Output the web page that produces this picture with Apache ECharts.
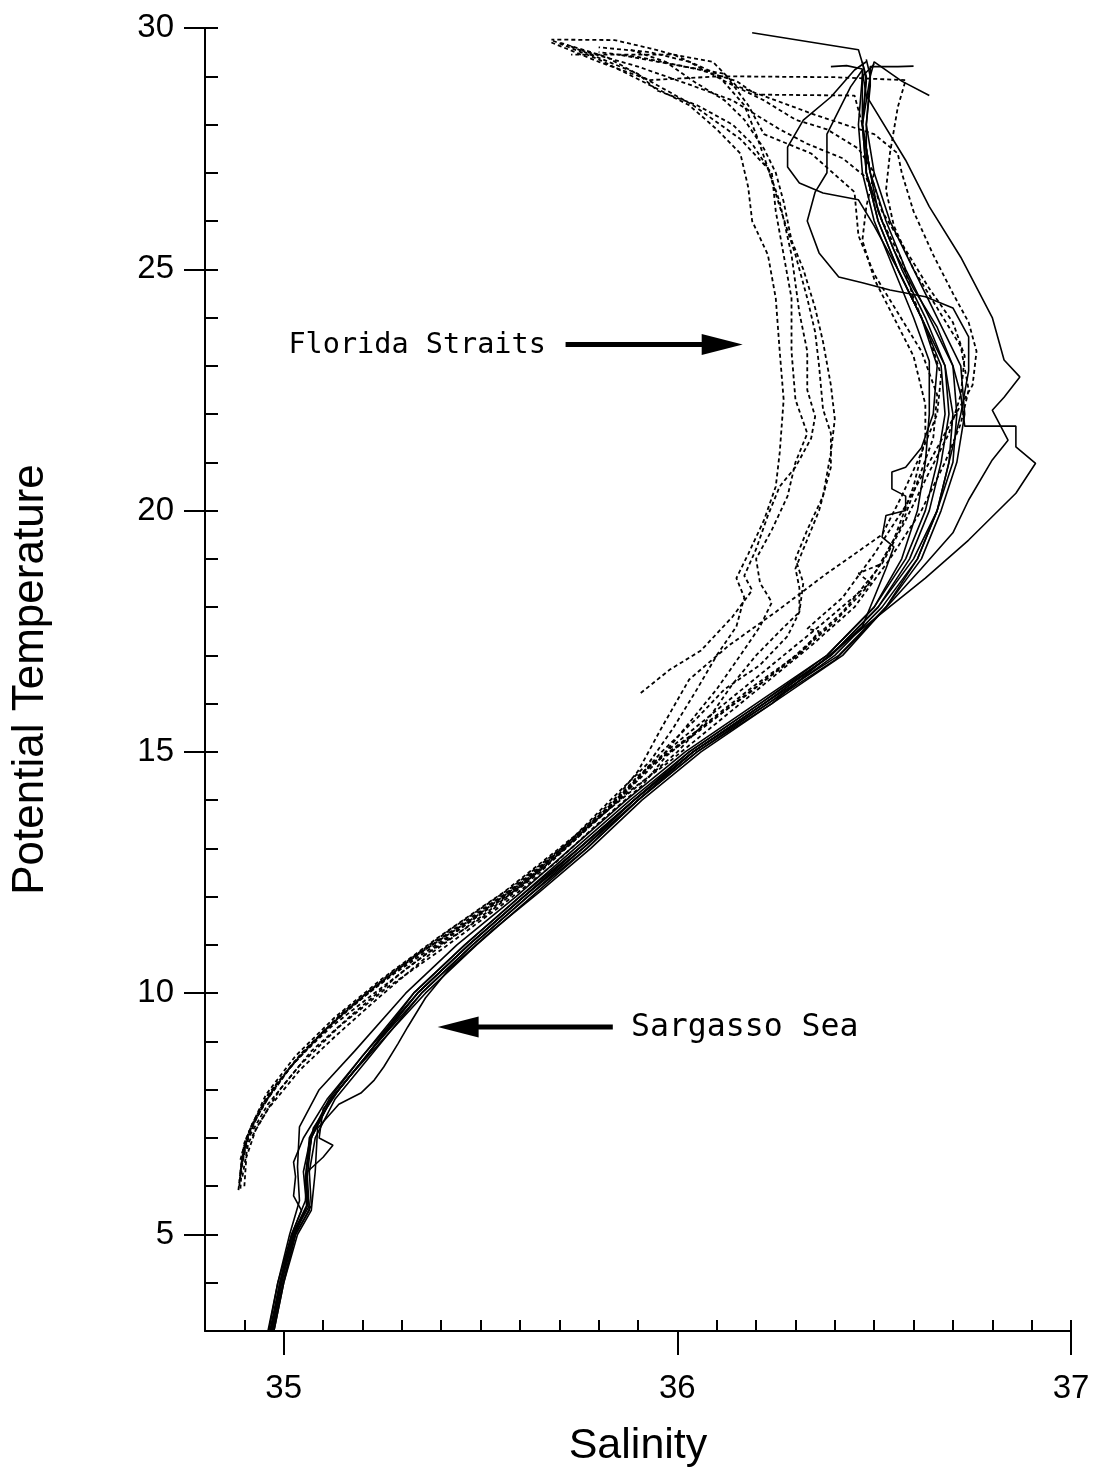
<!DOCTYPE html>
<html>
<head>
<meta charset="utf-8">
<script src="https://cdn.jsdelivr.net/npm/echarts@6/dist/echarts.min.js"></script>
<style>
  html, body { margin: 0; padding: 0; background: #fff; }
  #chart { width: 1098px; height: 1477px; }
</style>
</head>
<body>
<div id="chart"></div>
<script>
// ---------------- axis ticks ----------------
const xMajorTicks = [35, 36, 37];
const xMinorTicks = [34.9, 35.1, 35.2, 35.3, 35.4, 35.5, 35.6, 35.7, 35.8, 35.9,
                     36.1, 36.2, 36.3, 36.4, 36.5, 36.6, 36.7, 36.8, 36.9, 37];
const yMajorTicks = [5, 10, 15, 20, 25, 30];
const yInnerTicks = [4, 5, 6, 7, 8, 9, 10, 11, 12, 13, 14, 15, 16, 17, 18, 19, 20,
                     21, 22, 23, 24, 25, 26, 27, 28, 29, 30];

// ---------------- Sargasso Sea profiles [salinity, potential temperature] ----------------
const sargasso1 = [[34.975,3.0],[35.0,4.0],[35.035,5.0],[35.07,5.5],[35.08,6.3],[35.086,7.2],[35.14,7.7],[35.196,7.93],[35.23,8.2],[35.254,8.47],[35.29,8.95],[35.315,9.3],[35.36,9.9],[35.42,10.5],[35.53,11.3],[35.65,12.1],[35.78,13.0],[35.91,14.0],[36.06,15.0],[36.24,16.0],[36.40,17.1],[36.52,17.88],[36.63,18.6],[36.74,19.39],[36.86,20.36],[36.91,20.98],[36.86,21.32],[36.86,21.75],[36.73,21.75],[36.72,22.4],[36.70,23.0],[36.66,23.8],[36.60,24.6],[36.55,25.4],[36.51,26.2],[36.49,27.0],[36.47,28.0],[36.48,28.9],[36.47,29.3]];
const sargasso2 = [[34.968,3.0],[34.993,4.0],[35.028,5.0],[35.06,5.6],[35.058,6.4],[35.075,7.2],[35.14,8.0],[35.23,8.9],[35.35,10.0],[35.48,11.0],[35.62,12.0],[35.77,13.0],[35.90,14.0],[36.05,15.0],[36.23,16.0],[36.40,16.9],[36.52,17.9],[36.62,18.8],[36.70,19.54],[36.74,20.22],[36.80,21.05],[36.84,21.46],[36.80,22.08],[36.83,22.35],[36.87,22.77],[36.83,23.12],[36.80,24.0],[36.72,25.25],[36.64,26.3],[36.58,27.26],[36.48,28.6],[36.47,29.1]];
const sargasso3 = [[34.96,3.0],[34.985,4.0],[35.02,5.0],[35.055,5.7],[35.06,6.3],[35.10,6.6],[35.125,6.85],[35.09,7.0],[35.10,7.6],[35.17,8.3],[35.27,9.2],[35.36,10.0],[35.49,11.0],[35.63,12.0],[35.77,13.0],[35.90,14.0],[36.04,15.0],[36.22,16.0],[36.39,17.0],[36.51,18.0],[36.60,19.0],[36.66,20.0],[36.69,21.0],[36.70,22.0],[36.68,23.0],[36.62,24.0],[36.56,25.0],[36.50,25.9],[36.46,26.44],[36.37,26.58],[36.31,26.79],[36.28,27.12],[36.28,27.53],[36.32,28.09],[36.39,28.57],[36.45,29.13],[36.48,29.3]];
const sargasso4 = [[34.972,3.0],[34.998,4.0],[35.03,5.0],[35.065,5.5],[35.06,6.2],[35.07,7.0],[35.12,7.8],[35.21,8.7],[35.33,10.0],[35.46,11.0],[35.60,12.0],[35.75,13.0],[35.89,14.0],[36.04,15.0],[36.22,16.0],[36.41,17.0],[36.53,18.0],[36.61,19.0],[36.66,20.0],[36.69,21.0],[36.72,22.0],[36.74,22.9],[36.74,23.6],[36.70,24.2],[36.63,24.43],[36.54,24.57],[36.47,24.72],[36.41,24.84],[36.36,25.34],[36.33,26.0],[36.35,26.6],[36.38,27.0],[36.38,27.8],[36.44,28.78],[36.47,29.13]];
const sargasso5 = [[34.965,3.0],[34.99,4.0],[35.02,5.0],[35.045,5.5],[35.025,5.8],[35.03,6.2],[35.025,6.5],[35.05,7.0],[35.11,7.8],[35.20,8.7],[35.33,10.0],[35.46,11.0],[35.60,12.0],[35.74,13.0],[35.88,14.0],[36.03,15.0],[36.21,16.0],[36.39,17.0],[36.51,18.0],[36.59,19.0],[36.64,20.0],[36.67,21.0],[36.69,22.0],[36.68,23.0],[36.63,24.0],[36.57,25.0],[36.52,26.0],[36.48,27.0],[36.47,28.0],[36.48,29.0],[36.46,29.55],[36.19,29.9]];
const sargasso6 = [[34.962,3.0],[34.985,4.0],[35.015,5.0],[35.04,5.7],[35.035,6.4],[35.04,7.23],[35.09,8.0],[35.18,8.8],[35.31,10.0],[35.44,11.0],[35.59,12.0],[35.73,13.0],[35.87,14.0],[36.02,15.0],[36.20,16.0],[36.38,17.0],[36.50,18.0],[36.58,19.0],[36.63,20.0],[36.66,21.0],[36.68,22.0],[36.67,23.0],[36.62,24.0],[36.56,25.0],[36.51,26.0],[36.48,27.0],[36.48,28.0],[36.49,29.0],[36.50,29.3],[36.57,28.9],[36.64,28.6]];
const sargasso7 = [[34.97,3.0],[34.995,4.0],[35.025,5.0],[35.065,5.6],[35.055,6.1],[35.065,7.0],[35.115,7.8],[35.20,8.7],[35.34,10.0],[35.47,11.0],[35.61,12.0],[35.76,13.0],[35.89,14.0],[36.04,15.0],[36.23,16.0],[36.40,17.0],[36.52,18.0],[36.61,19.0],[36.66,20.0],[36.70,21.0],[36.71,22.0],[36.70,23.0],[36.64,24.0],[36.58,25.0],[36.53,26.0],[36.49,27.0],[36.47,28.0],[36.47,28.8],[36.47,29.15],[36.43,29.22],[36.39,29.2]];
const sargasso8 = [[34.975,3.0],[35.0,4.0],[35.03,5.0],[35.07,5.6],[35.065,6.3],[35.08,7.0],[35.13,7.8],[35.22,8.7],[35.35,10.0],[35.48,11.0],[35.62,12.0],[35.76,13.0],[35.90,14.0],[36.05,15.0],[36.24,16.0],[36.42,17.0],[36.53,18.0],[36.62,19.0],[36.67,20.0],[36.71,21.0],[36.73,22.0],[36.72,23.0],[36.66,24.0],[36.60,25.0],[36.54,26.0],[36.50,27.0],[36.48,28.0],[36.49,28.8],[36.49,29.2],[36.56,29.2],[36.60,29.21]];
const sargasso9 = [[34.968,3.0],[34.99,4.0],[35.022,5.0],[35.058,5.6],[35.05,6.3],[35.068,7.0],[35.12,7.8],[35.21,8.7],[35.34,10.0],[35.47,11.0],[35.61,12.0],[35.75,13.0],[35.89,14.0],[36.04,15.0],[36.22,16.0],[36.39,17.0],[36.47,17.6],[36.50,18.2],[36.53,18.8],[36.55,19.25],[36.52,19.45],[36.53,19.9],[36.58,20.0],[36.58,20.3],[36.545,20.45],[36.545,20.8],[36.58,20.9],[36.62,21.3],[36.65,22.0],[36.66,23.0],[36.62,24.0],[36.56,25.0],[36.51,26.0],[36.48,27.0],[36.47,28.0],[36.49,29.0],[36.48,29.35]];
const sargasso10 = [[34.966,3.0],[34.992,4.0],[35.025,5.0],[35.06,5.6],[35.055,6.2],[35.07,7.0],[35.12,7.8],[35.21,8.7],[35.34,10.0],[35.47,11.0],[35.61,12.0],[35.75,13.0],[35.89,14.0],[36.03,15.0],[36.21,16.0],[36.38,17.0],[36.50,18.0],[36.57,19.0],[36.61,20.0],[36.63,21.0],[36.64,22.0],[36.64,23.1],[36.60,24.0],[36.55,25.0],[36.50,26.0],[36.47,27.0],[36.46,28.0],[36.47,29.0],[36.50,29.25]];

// ---------------- Florida Straits profiles [salinity, potential temperature] ----------------
const florida1 = [[35.907,16.22],[35.98,16.7],[36.06,17.1],[36.14,17.8],[36.19,18.35],[36.17,18.65],[36.20,19.2],[36.23,19.9],[36.26,20.5],[36.30,20.9],[36.34,21.5],[36.35,21.95],[36.33,22.5],[36.33,23.3],[36.31,24.1],[36.29,25.3],[36.26,26.4],[36.23,27.1],[36.19,27.6],[36.14,28.0],[36.05,28.4],[35.95,28.7],[35.90,29.05],[35.78,29.45],[35.72,29.65]];
const florida2 = [[34.885,5.92],[34.89,6.3],[34.90,6.8],[34.93,7.4],[34.98,8.1],[35.05,8.8],[35.15,9.6],[35.27,10.4],[35.42,11.3],[35.58,12.2],[35.72,13.1],[35.83,14.0],[35.93,14.8],[35.99,15.5],[36.05,16.3],[36.10,17.0],[36.15,17.6],[36.17,18.2],[36.15,18.6],[36.18,19.1],[36.22,19.8],[36.25,20.5],[36.26,21.2],[36.27,22.3],[36.26,23.3],[36.25,24.4],[36.23,25.3],[36.19,26.0],[36.18,26.7],[36.16,27.4],[36.10,27.9],[36.03,28.4],[35.91,28.9],[35.80,29.35],[35.68,29.75]];
const florida3 = [[34.89,6.55],[34.905,7.0],[34.95,7.7],[35.02,8.5],[35.10,9.2],[35.20,9.9],[35.32,10.7],[35.47,11.5],[35.62,12.4],[35.75,13.3],[35.86,14.1],[35.95,14.8],[36.03,15.6],[36.10,16.3],[36.16,17.0],[36.21,17.6],[36.24,18.1],[36.21,18.5],[36.20,19.0],[36.24,19.6],[36.28,20.3],[36.30,21.0],[36.33,21.6],[36.30,22.3],[36.29,23.3],[36.29,24.4],[36.27,25.3],[36.25,26.2],[36.24,27.0],[36.16,27.7],[36.04,28.4],[35.93,28.9],[35.82,29.4],[35.70,29.7]];
const florida4 = [[34.895,6.2],[34.91,6.9],[34.96,7.6],[35.04,8.4],[35.13,9.1],[35.24,9.9],[35.37,10.8],[35.52,11.7],[35.66,12.6],[35.78,13.5],[35.90,14.3],[36.0,15.0],[36.08,15.7],[36.14,16.4],[36.20,17.0],[36.26,17.5],[36.31,17.9],[36.31,18.4],[36.30,18.8],[36.32,19.2],[36.36,20.0],[36.39,20.9],[36.39,21.6],[36.37,22.1],[36.36,23.0],[36.35,23.7],[36.33,24.4],[36.30,25.3],[36.26,26.3],[36.23,27.1],[36.20,27.8],[36.17,28.4],[36.10,29.05],[35.99,29.45],[35.93,29.58],[35.84,29.75],[35.68,29.76]];
const florida5 = [[34.90,6.0],[34.905,6.6],[34.93,7.2],[34.99,8.0],[35.07,8.8],[35.18,9.6],[35.31,10.5],[35.46,11.4],[35.61,12.3],[35.74,13.2],[35.86,14.1],[35.96,15.0],[36.05,15.7],[36.12,16.3],[36.21,16.8],[36.28,17.4],[36.31,17.9],[36.32,18.5],[36.30,19.0],[36.33,19.6],[36.37,20.3],[36.39,21.2],[36.40,21.9],[36.39,22.6],[36.37,23.5],[36.35,24.2],[36.32,25.0],[36.29,25.6],[36.27,26.4],[36.25,27.0],[36.22,27.5],[36.17,28.1],[36.12,28.5],[36.04,28.9],[35.97,29.3],[35.88,29.55]];
const florida6 = [[34.888,6.1],[34.895,6.7],[34.92,7.3],[34.97,8.0],[35.04,8.7],[35.14,9.5],[35.26,10.3],[35.41,11.2],[35.57,12.1],[35.71,13.0],[35.83,13.9],[35.93,14.7],[36.06,15.5],[36.18,16.2],[36.30,17.0],[36.42,17.9],[36.51,18.8],[36.57,19.7],[36.61,20.6],[36.65,21.5],[36.66,22.4],[36.62,23.3],[36.56,24.1],[36.50,24.9],[36.46,25.7],[36.45,26.6],[36.34,27.4],[36.22,27.8],[36.18,28.4],[36.12,29.05],[36.02,29.2],[35.90,29.4],[35.80,29.5]];
const florida7 = [[34.893,6.4],[34.91,7.1],[34.955,7.8],[35.03,8.6],[35.12,9.3],[35.23,10.0],[35.36,10.8],[35.51,11.6],[35.65,12.5],[35.77,13.4],[35.88,14.2],[35.98,14.8],[36.10,15.6],[36.22,16.4],[36.34,17.2],[36.45,18.0],[36.54,19.0],[36.62,20.0],[36.68,21.0],[36.72,21.8],[36.74,22.5],[36.72,23.4],[36.66,24.2],[36.60,25.0],[36.55,25.9],[36.53,26.64],[36.54,27.4],[36.56,28.36],[36.58,28.92],[36.40,28.98],[36.11,29.0],[35.93,28.92],[35.80,29.3],[35.68,29.7]];
const florida8 = [[34.887,6.0],[34.893,6.5],[34.91,7.1],[34.955,7.9],[35.03,8.7],[35.13,9.5],[35.25,10.3],[35.40,11.2],[35.56,12.1],[35.70,13.0],[35.82,13.8],[35.90,14.5],[36.0,15.2],[36.12,16.0],[36.24,16.8],[36.36,17.6],[36.49,18.5],[36.46,18.7],[36.52,18.9],[36.58,19.8],[36.64,20.8],[36.69,21.6],[36.72,22.4],[36.73,23.2],[36.70,23.9],[36.64,24.6],[36.58,25.4],[36.52,26.2],[36.49,27.0],[36.47,28.0],[36.45,28.6],[36.20,28.62],[36.15,28.9],[36.05,29.15],[35.95,29.3],[35.85,29.45]];
const florida9 = [[34.89,6.3],[34.90,6.9],[34.94,7.6],[35.01,8.4],[35.10,9.2],[35.21,10.0],[35.34,10.8],[35.49,11.6],[35.64,12.5],[35.76,13.4],[35.85,14.1],[35.90,14.6],[35.96,15.5],[36.03,16.5],[36.13,17.2],[36.25,17.9],[36.38,18.7],[36.52,19.5],[36.57,20.3],[36.62,21.2],[36.66,22.0],[36.67,22.8],[36.64,23.6],[36.60,24.4],[36.57,25.2],[36.52,26.0],[36.48,26.9],[36.42,27.3],[36.33,27.6],[36.26,27.9],[36.20,28.2],[36.14,28.5],[36.04,28.8],[35.90,29.2],[35.75,29.55]];
const florida10 = [[34.895,6.5],[34.91,7.0],[34.96,7.7],[35.04,8.5],[35.14,9.3],[35.26,10.1],[35.40,10.9],[35.55,11.8],[35.69,12.7],[35.81,13.6],[35.91,14.3],[35.97,14.9],[36.09,15.7],[36.20,16.4],[36.32,17.1],[36.36,17.5],[36.33,17.55],[36.35,17.7],[36.42,18.2],[36.50,19.1],[36.58,20.1],[36.64,21.0],[36.70,21.9],[36.75,22.6],[36.76,23.3],[36.74,23.9],[36.70,24.5],[36.65,25.3],[36.60,26.2],[36.57,27.0],[36.56,27.4],[36.50,27.8],[36.35,28.2],[36.25,28.5],[36.15,28.8],[36.09,29.3],[35.99,29.45],[35.73,29.45]];
const florida11 = [[34.89,5.95],[34.895,6.6],[34.915,7.2],[34.96,7.9],[35.04,8.7],[35.15,9.6],[35.28,10.4],[35.44,11.3],[35.60,12.2],[35.73,13.1],[35.85,14.0],[35.93,14.7],[36.05,15.4],[36.16,16.1],[36.29,16.9],[36.40,17.7],[36.48,18.4],[36.55,19.4],[36.60,20.5],[36.63,21.5],[36.63,22.2],[36.60,23.2],[36.55,24.0],[36.50,24.8],[36.47,25.6],[36.48,26.3],[36.50,27.0],[36.46,27.5],[36.38,27.9],[36.30,28.1],[36.22,28.5],[36.12,28.9],[36.03,29.3],[35.93,29.5],[35.80,29.6]];

const sargassoProfiles = [sargasso1, sargasso2, sargasso3, sargasso4, sargasso5,
                          sargasso6, sargasso7, sargasso8, sargasso9, sargasso10];
const floridaProfiles = [florida1, florida2, florida3, florida4, florida5, florida6,
                         florida7, florida8, florida9, florida10, florida11];

// ---------------- chart ----------------
const chart = echarts.init(document.getElementById('chart'), null, { renderer: 'canvas' });
const INK = '#000';
const SANS = '"Liberation Sans", Arial, Helvetica, sans-serif';
const MONO = '"DejaVu Sans Mono", "Liberation Mono", monospace';

const series = [];
floridaProfiles.forEach(function (d) {
  series.push({
    type: 'line', name: 'Florida Straits', data: d, symbol: 'none', silent: true,
    lineStyle: { color: INK, width: 1.8, type: [4, 3] }, z: 2
  });
});
sargassoProfiles.forEach(function (d) {
  series.push({
    type: 'line', name: 'Sargasso Sea', data: d, symbol: 'none', silent: true,
    lineStyle: { color: INK, width: 1.6 }, z: 3
  });
});

const axisLineStyle = { color: INK, width: 2 };

chart.setOption({
  animation: false,
  backgroundColor: '#fff',
  grid: { left: 205, right: 27, top: 28, bottom: 146, containLabel: false, outerBoundsMode: 'none' },
  xAxis: [
    {
      type: 'value', min: 34.8, max: 37, position: 'bottom',
      axisLine: { show: true, lineStyle: axisLineStyle },
      axisTick: { show: true, inside: true, length: 11, customValues: xMinorTicks, lineStyle: axisLineStyle },
      axisLabel: { show: false },
      splitLine: { show: false }
    },
    {
      type: 'value', min: 34.8, max: 37, position: 'bottom',
      axisLine: { show: false },
      axisTick: { show: true, inside: false, length: 24, customValues: xMajorTicks, lineStyle: axisLineStyle },
      axisLabel: { show: true, customValues: xMajorTicks, margin: 41, color: INK, fontSize: 33, fontFamily: SANS },
      splitLine: { show: false },
      name: 'Salinity', nameLocation: 'middle', nameGap: 94,
      nameTextStyle: { color: INK, fontSize: 43, fontFamily: SANS }
    }
  ],
  yAxis: [
    {
      type: 'value', min: 3, max: 30, position: 'left',
      axisLine: { show: true, lineStyle: axisLineStyle },
      axisTick: { show: true, inside: true, length: 13, customValues: yInnerTicks, lineStyle: axisLineStyle },
      axisLabel: { show: false },
      splitLine: { show: false }
    },
    {
      type: 'value', min: 3, max: 30, position: 'left',
      axisLine: { show: false },
      axisTick: { show: true, inside: false, length: 21, customValues: yMajorTicks, lineStyle: axisLineStyle },
      axisLabel: { show: true, customValues: yMajorTicks, margin: 31, color: INK, fontSize: 33, fontFamily: SANS },
      splitLine: { show: false },
      name: 'Potential Temperature', nameLocation: 'middle', nameGap: 152, nameRotate: 90,
      nameTextStyle: { color: INK, fontSize: 44, fontFamily: SANS }
    }
  ],
  series: series
});

// ---------------- annotations (placed in data coordinates) ----------------
function px(s, t) {
  return chart.convertToPixel({ xAxisIndex: 0, yAxisIndex: 0 }, [s, t]);
}
function arrowShapes(from, to) {
  const dir = Math.sign(to[0] - from[0]);
  const headLen = 41, headHalf = 10.5;
  return [
    { type: 'line', silent: true,
      shape: { x1: from[0], y1: from[1], x2: to[0] - dir * headLen * 0.8, y2: to[1] },
      style: { stroke: INK, lineWidth: 5 } },
    { type: 'polygon', silent: true,
      shape: { points: [[to[0], to[1]], [to[0] - dir * headLen, to[1] - headHalf], [to[0] - dir * headLen, to[1] + headHalf]] },
      style: { fill: INK } }
  ];
}
function label(text, at, size) {
  return { type: 'text', silent: true, x: at[0], y: at[1],
    style: { text: text, fill: INK, font: size + 'px ' + MONO,
             align: 'left', verticalAlign: 'middle', textAlign: 'left', textVerticalAlign: 'middle' } };
}

const floridaArrow = arrowShapes(px(35.716, 23.44), px(36.166, 23.44));
const sargassoArrow = arrowShapes(px(35.836, 9.30), px(35.391, 9.30));
chart.setOption({
  graphic: [].concat(
    [label('Florida Straits', px(35.012, 23.41), 28.5)],
    floridaArrow,
    sargassoArrow,
    [label('Sargasso Sea', px(35.882, 9.29), 31.5)]
  )
});
</script>
</body>
</html>
